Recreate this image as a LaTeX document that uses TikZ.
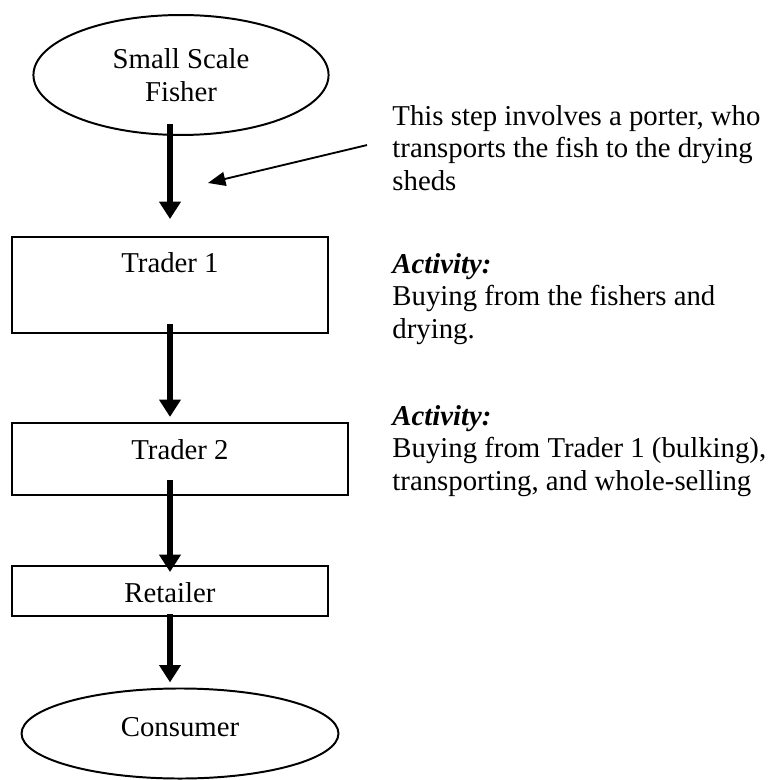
\documentclass[tikz,border=0pt]{standalone}
\usepackage{fontspec}
\setmainfont{Liberation Serif}
\usetikzlibrary{arrows.meta,shapes.geometric}

\begin{document}
\begin{tikzpicture}[x=0.431pt,y=-0.431pt,
  font=\fontsize{12.4}{14}\selectfont,
  stage/.style={draw,line width=0.85pt,inner sep=0pt},
  endpoint/.style={ellipse,draw,line width=0.85pt,inner sep=0pt,align=center},
  flow/.style={line width=2.6pt,-{Triangle[width=9pt,length=7.5pt]}},
  pointer/.style={line width=0.8pt,-{Triangle[width=6pt,length=7.5pt]}},
  remark/.style={anchor=north west,align=left,inner sep=0pt}]
\useasboundingbox (0,0) rectangle (776,780);
\node[endpoint,minimum width=127.2pt,minimum height=51.7pt] (fisher) at (181,75) {Small Scale\\Fisher};
\node[stage,minimum width=136.2pt,text height=15.5pt,text depth=25.9pt] (trader1) at (170,285) {Trader 1};
\node[stage,minimum width=144.8pt,text height=15.9pt,text depth=15.1pt] (trader2) at (180,459) {Trader 2};
\node[stage,minimum width=136.2pt,text height=15.5pt,text depth=6pt] (retailer) at (170,591) {Retailer};
\node[endpoint,minimum width=136.6pt,minimum height=38.8pt,text height=8pt,text depth=5pt] (consumer) at (180,733.5) {Consumer};
\draw[flow,shorten <=-5.2pt,shorten >=7.3pt] (fisher.south -| trader1.north) -- (trader1.north);
\draw[flow,shorten <=-4.3pt,shorten >=2.2pt] (trader1.south) -- (trader1.south |- trader2.north);
\draw[flow,shorten <=-6.9pt,shorten >=-3pt] (trader2.south -| retailer.north) -- (retailer.north);
\draw[flow,shorten <=-1.3pt,shorten >=2.2pt] (retailer.south) -- (retailer.south |- consumer.north);
\node[remark] (porter) at (392,105) {This step involves a porter, who\\transports the fish to the drying\\sheds};
\node[remark] (activity1) at (392,253) {\textbf{\textit{Activity:}}\\Buying from the fishers and\\drying.};
\node[remark] (activity2) at (392,405) {\textbf{\textit{Activity:}}\\Buying from Trader 1 (bulking),\\transporting, and whole-selling};
\coordinate (shed) at (208,183);
\draw[pointer] (porter.west) ++(-25,-3) -- (shed);
\end{tikzpicture}
\end{document}
